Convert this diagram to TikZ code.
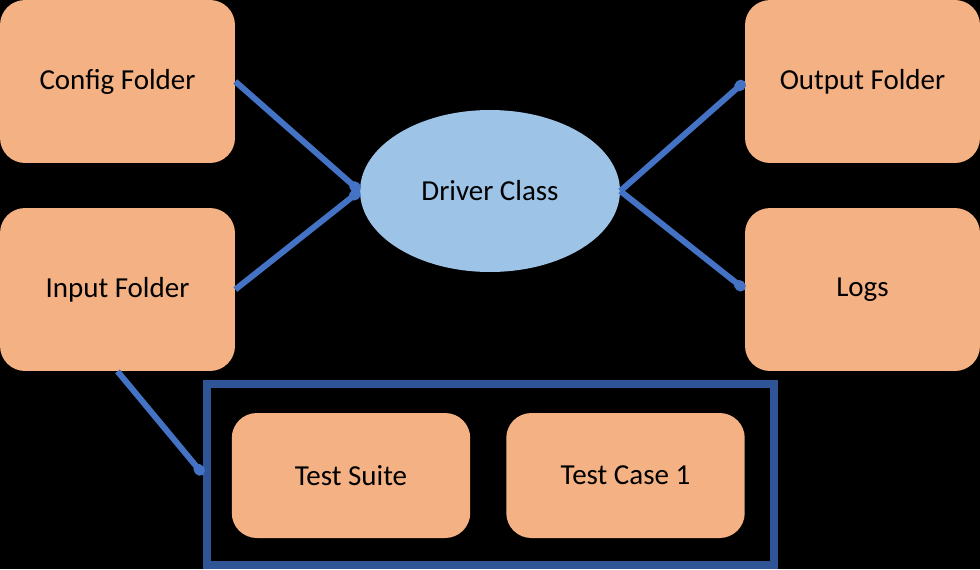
\documentclass[tikz,border=0pt]{standalone}
\usepackage{fontspec}
\setmainfont{Carlito}
\usetikzlibrary{arrows.meta,shapes.geometric}
\definecolor{folderOrange}{HTML}{F4B183}
\definecolor{driverBlue}{HTML}{9DC3E6}
\definecolor{linkBlue}{HTML}{4472C4}
\definecolor{frameBlue}{HTML}{2F5597}

\begin{document}
\begin{tikzpicture}[
  x=0.02cm,y=-0.02cm,
  folder/.style={rectangle,rounded corners=0.5cm,fill=folderOrange,minimum width=4.7cm,minimum height=3.26cm,inner sep=0pt,font=\fontsize{16.5}{20}\selectfont},
  testbox/.style={folder,minimum width=4.77cm,minimum height=2.5cm},
  driver/.style={ellipse,fill=driverBlue,minimum width=5.2cm,minimum height=3.24cm,inner sep=0pt,font=\fontsize{16.5}{20}\selectfont},
  frame/.style={rectangle,draw=frameBlue,line width=4.5pt,minimum width=11.34cm,minimum height=3.62cm,inner sep=0pt},
  link/.style={-{Ellipse[length=2.4mm,width=2.1mm]},line width=3.4pt,color=linkBlue}
]
\fill[black] (0,0) rectangle (980,569);
\useasboundingbox (0,0) rectangle (980,569);
\node[folder] (config) at (117.5,81.5) {Config Folder};
\node[folder] (input) at (117.5,289.5) {Input Folder};
\node[folder] (output) at (862.5,81.5) {Output Folder};
\node[folder] (logs) at (862.5,289.5) {Logs};
\node[driver] (drv) at (490,191) {Driver Class};
\node[frame] (tests) at (490.5,474.5) {};
\node[testbox] (suite) at (351,475.5) {Test Suite};
\node[testbox] (case) at (625.5,475.5) {Test Case 1};
\draw[link] (config.east) -- (drv.west);
\draw[link] (input.east) -- (drv.west);
\draw[link] (drv.east) -- (output.west);
\draw[link] (drv.east) -- (logs.west);
\draw[link] (input.south) -- (tests.west);
\end{tikzpicture}
\end{document}
